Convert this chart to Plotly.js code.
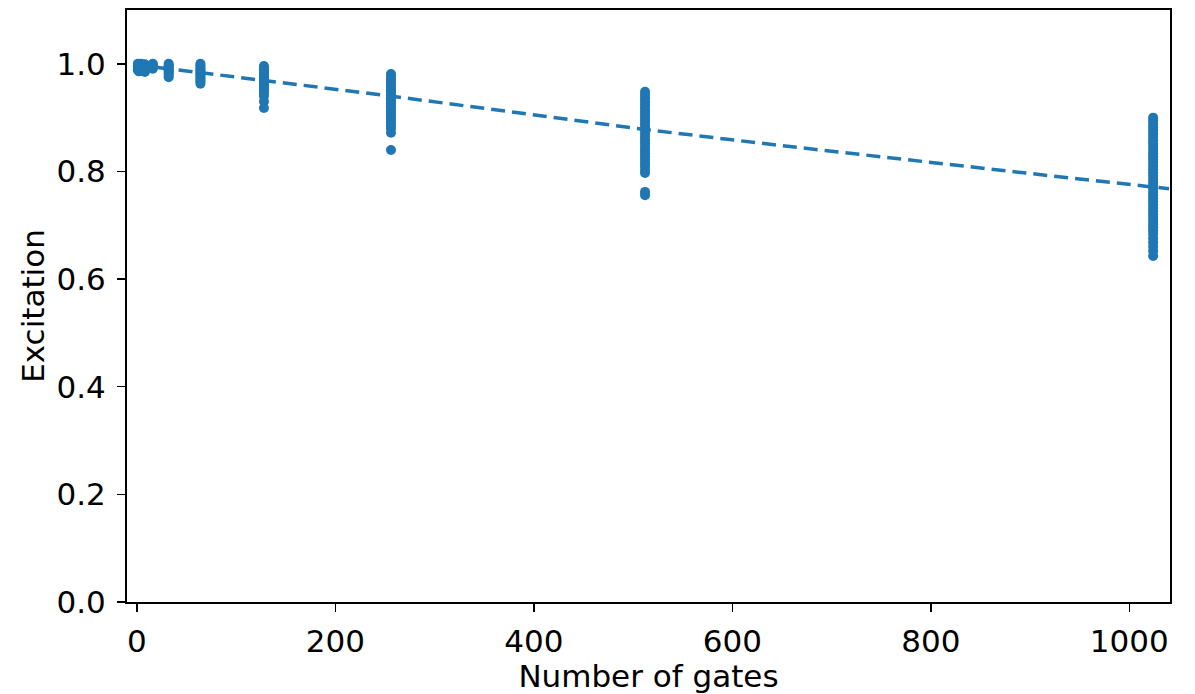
<!DOCTYPE html>
<html>
<head>
<meta charset="utf-8">
<script src="https://cdn.plot.ly/plotly-3.0.1.min.js"></script>
<style>html,body{margin:0;padding:0;background:#fff}#chart{width:1195px;height:694px}</style>
</head>
<body>
<div id="chart"></div>
<script>
// Number of gates for each measured column
const gates = [1, 2, 4, 8, 16, 32, 64, 128, 256, 512, 1024];

// Excitation readings per column
const exc1 = [1.0, 0.998, 0.997, 0.995, 0.993, 0.99, 0.988];
const exc2 = [0.999, 0.997, 0.995, 0.992, 0.989, 0.986];
const exc4 = [1.0, 0.998, 0.996, 0.993, 0.99, 0.987];
const exc8 = [0.999, 0.997, 0.994, 0.991, 0.988, 0.985];
const exc16 = [1.0, 0.998, 0.996, 0.993, 0.991];
const exc32 = [1.0, 0.997, 0.995, 0.993, 0.99, 0.988, 0.985, 0.982, 0.979, 0.975];
const exc64 = [1.0, 0.997, 0.994, 0.991, 0.988, 0.985, 0.982, 0.979, 0.976, 0.973, 0.97, 0.967, 0.963];
const exc128 = [0.996, 0.993, 0.99, 0.987, 0.984, 0.981, 0.978, 0.975, 0.972, 0.969, 0.966, 0.963, 0.96, 0.957, 0.954, 0.95, 0.946, 0.94, 0.93, 0.918];
const exc256 = [0.981, 0.976, 0.971, 0.966, 0.961, 0.956, 0.951, 0.946, 0.941, 0.936, 0.931, 0.926, 0.921, 0.916, 0.911, 0.906, 0.901, 0.896, 0.891, 0.886, 0.88, 0.872, 0.84];
const exc512 = [0.948, 0.942, 0.936, 0.93, 0.924, 0.918, 0.912, 0.906, 0.9, 0.894, 0.888, 0.882, 0.876, 0.87, 0.864, 0.858, 0.852, 0.846, 0.84, 0.834, 0.828, 0.822, 0.816, 0.81, 0.803, 0.797, 0.762, 0.756];
const exc1024 = [0.9, 0.894, 0.888, 0.882, 0.876, 0.87, 0.864, 0.858, 0.852, 0.846, 0.84, 0.834, 0.828, 0.822, 0.816, 0.81, 0.804, 0.798, 0.792, 0.786, 0.78, 0.774, 0.768, 0.762, 0.756, 0.75, 0.744, 0.738, 0.732, 0.726, 0.72, 0.714, 0.708, 0.702, 0.696, 0.69, 0.684, 0.676, 0.668, 0.66, 0.652, 0.643];
const excByGate = [exc1, exc2, exc4, exc8, exc16, exc32, exc64, exc128, exc256, exc512, exc1024];

// Fitted decay curve
const fitX = [0, 128, 256, 384, 512, 640, 768, 896, 1024, 1040];
const fitY = [0.998, 0.969, 0.940, 0.909, 0.878, 0.850, 0.823, 0.797, 0.771, 0.768];

// Axis ticks
const xTicks = [0, 200, 400, 600, 800, 1000];
const yTicks = [0.0, 0.2, 0.4, 0.6, 0.8, 1.0];

const px = [], py = [];
gates.forEach((g, i) => excByGate[i].forEach(v => { px.push(g); py.push(v); }));

const blue = '#1f77b4';
const font = {family: 'DejaVu Sans', size: 31, color: '#000'};

const traces = [
  {x: px, y: py, type: 'scatter', mode: 'markers',
   marker: {color: blue, size: 10, line: {width: 0}}, showlegend: false, hoverinfo: 'x+y'},
  {x: fitX, y: fitY, type: 'scatter', mode: 'lines',
   line: {color: blue, width: 3.5, dash: '14px,7px'}, showlegend: false}
];

const layout = {
  width: 1195, height: 694,
  margin: {l: 127, r: 25, t: 10, b: 92},
  paper_bgcolor: '#fff', plot_bgcolor: '#fff',
  font: font,
  xaxis: {
    range: [-10, 1041], tickvals: xTicks, ticktext: xTicks.map(String),
    showgrid: false, zeroline: false, showline: true, mirror: true,
    linecolor: '#000', linewidth: 2, ticks: 'outside', ticklen: 8, tickwidth: 1.5, tickcolor: '#000',
    tickfont: font, ticklabelstandoff: 3,
    title: {text: 'Number of gates', font: font, standoff: 4}
  },
  yaxis: {
    range: [0, 1.1], tickvals: yTicks, ticktext: yTicks.map(v => v.toFixed(1)),
    showgrid: false, zeroline: false, showline: true, mirror: true,
    linecolor: '#000', linewidth: 2, ticks: 'outside', ticklen: 8, tickwidth: 1.5, tickcolor: '#000',
    tickfont: font, ticklabelstandoff: 5,
    title: {text: 'Excitation', font: font, standoff: 3}
  }
};

Plotly.newPlot('chart', traces, layout, {displayModeBar: false, staticPlot: true});
</script>
</body>
</html>
